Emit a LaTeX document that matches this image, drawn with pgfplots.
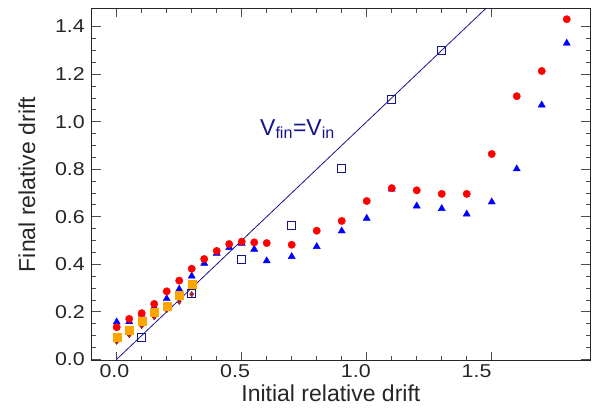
\documentclass[border=0pt]{standalone}
\usepackage{fontspec}
\setmainfont{Liberation Sans}
\newfontfamily\tickfont{Liberation Sans}[FakeStretch=1.15]
\usepackage{pgfplots}
\pgfplotsset{compat=1.18}
\definecolor{navyc}{RGB}{20,20,140}
\definecolor{orangec}{RGB}{255,165,0}
\definecolor{brownc}{RGB}{160,40,40}
\begin{document}
\begin{tikzpicture}
\begin{axis}[
  at={(0,0)}, anchor=south west,
  width=498.3pt, height=352.4pt, scale only axis,
  xmin=-0.1, xmax=1.893, ymin=-0.006, ymax=1.477,
  xtick={0,0.5,1,1.5}, ytick={0,0.2,0.4,0.6,0.8,1.0,1.2,1.4},
  minor x tick num=4, minor y tick num=3,
  tick align=inside, xtick pos=both, ytick pos=both,
  major tick length=9pt, minor tick length=4.5pt,
  every tick/.style={black!70, line width=0.7pt},
  axis line style={black!85, line width=0.9pt},
  /pgf/number format/assume math mode=true,
  /pgf/number format/.cd, fixed, fixed zerofill, precision=1, /pgfplots/.cd,
  tick label style={font=\tickfont\fontsize{18.6}{22}\selectfont, text=black!85},
  xticklabel style={anchor=north, inner sep=0pt, yshift=-3.3pt, xshift={-2.3pt-4.3pt*\ticknum}},
  yticklabel style={anchor=east, inner sep=0pt, xshift=-6.7pt},
  xlabel={Initial relative drift},
  ylabel={Final relative drift},
  every axis x label/.style={at={(axis description cs:0.48,-0.1144)}, anchor=base, font=\fontsize{23}{27}\selectfont, text=black!85},
  every axis y label/.style={at={(axis description cs:-0.1298,0.5)}, anchor=center, rotate=90, font=\fontsize{23}{27}\selectfont, text=black!85},
]
\addplot[navyc, line width=0.8pt] coordinates {(0,0) (1.6,1.6)};
\addplot[only marks, mark=triangle*, mark size=4.1pt, color=blue] coordinates {
(0,0.157) (0.05,0.158) (0.1,0.19) (0.15,0.22) (0.2,0.255) (0.25,0.295) (0.3,0.35)
(0.35,0.404) (0.4,0.446) (0.45,0.47) (0.5,0.488) (0.55,0.463) (0.6,0.414)
(0.7,0.432) (0.8,0.474) (0.9,0.54) (1.0,0.593) (1.1,0.716) (1.2,0.645)
(1.3,0.634) (1.4,0.611) (1.5,0.662) (1.6,0.801) (1.7,1.07) (1.8,1.33)};
\addplot[only marks, mark=*, mark size=3.7pt, color=red] coordinates {
(0,0.135) (0.05,0.17) (0.1,0.194) (0.15,0.233) (0.2,0.286) (0.25,0.331) (0.3,0.381)
(0.35,0.422) (0.4,0.456) (0.45,0.485) (0.5,0.495) (0.55,0.492) (0.6,0.489)
(0.7,0.482) (0.8,0.541) (0.9,0.582) (1.0,0.666) (1.1,0.72) (1.2,0.711)
(1.3,0.696) (1.4,0.696) (1.5,0.864) (1.6,1.107) (1.7,1.213) (1.8,1.431)};
\addplot[only marks, mark=diamond*, mark size=2.8pt, color=brownc] coordinates {
(0,0.074) (0.05,0.102) (0.1,0.14) (0.15,0.177) (0.2,0.207) (0.25,0.242) (0.3,0.274)};
\addplot[only marks, mark=square*, mark size=4pt, color=orangec] coordinates {
(0,0.091) (0.05,0.123) (0.1,0.16) (0.15,0.198) (0.2,0.224) (0.25,0.268) (0.3,0.316)};
\addplot[only marks, mark=square, mark size=4pt, color=navyc, mark options={line width=0.9pt}] coordinates {
(0.1,0.091) (0.3,0.278) (0.5,0.421) (0.7,0.564) (0.9,0.804) (1.1,1.095) (1.3,1.298)};
\node[anchor=base west, text=navyc, font=\fontsize{23}{27}\selectfont, inner sep=0pt] at (axis cs:0.573,0.943) {V\textsubscript{fin}=V\textsubscript{in}};
\end{axis}
\pgfresetboundingbox
\path (-91.7pt,-57.3pt) rectangle (509.3pt,360.7pt);
\end{tikzpicture}
\end{document}
